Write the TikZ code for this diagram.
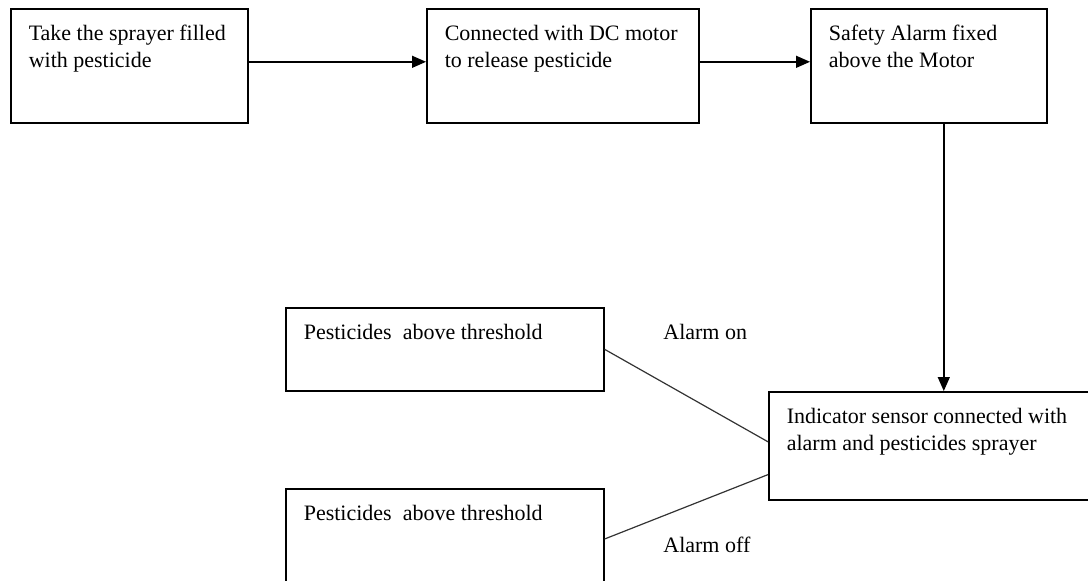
\documentclass[tikz,border=0pt]{standalone}
\usepackage{fontspec}
\setmainfont{Liberation Serif}
\usetikzlibrary{positioning, arrows.meta, calc}

\newcommand{\cellbox}[3]{\parbox[t][#2][t]{\dimexpr#1pt-18pt\relax}{\raggedright #3}}

\begin{document}
\begin{tikzpicture}[x=1pt, y=-1pt, font=\fontsize{11}{13.5}\selectfont,
  >={Triangle[length=7pt, width=6pt]},
  stepbox/.style={draw, line width=0.8pt, anchor=north west, inner xsep=9pt, inner ysep=8pt},
  tag/.style={anchor=west, inner sep=0pt},
  flow/.style={->, line width=0.7pt},
  link/.style={line width=0.6pt, black!80},
]
  \useasboundingbox (0,0) rectangle (544,290);
  % top row, left to right
  \foreach \nb/\xb/\wb/\tb in {%
    take/5/118.5/{Take the sprayer filled\\with pesticide},%
    motor/213/136/{Connected with DC motor\\to release pesticide},%
    alarm/405/118/{Safety Alarm fixed\\above the Motor}%
  } {
    \node[stepbox] (\nb) at (\xb,4) {\cellbox{\wb}{41pt}{\tb}};
  }
  \node[stepbox] (above) at (142.5,153.5) {\cellbox{159}{25.5pt}{Pesticides\ \ above threshold}};
  \node[stepbox] (below) at (142.5,244) {\cellbox{159}{44pt}{Pesticides\ \ above threshold}};
  \node[stepbox] (sensor) at (384,195.5) {\cellbox{170}{38pt}{Indicator sensor connected with\\alarm and pesticides sprayer}};
  \node[tag] (on) at (331.5,166) {Alarm on};
  \node[tag] (off) at (331.5,272.5) {Alarm off};

  \draw[flow] ([yshift=2pt]take.east) -- ([yshift=2pt]motor.west);
  \draw[flow] ([yshift=2pt]motor.east) -- ([yshift=2pt]alarm.west);
  \draw[flow] ([xshift=7.5pt]alarm.south) -- ([xshift=7.5pt]alarm.south |- sensor.north);
  \draw[link] (above.east) -- ([yshift=2pt]sensor.west);
  \draw[link] ([yshift=-25.5pt]below.north east) -- ([yshift=13pt]sensor.south west);
\end{tikzpicture}
\end{document}
